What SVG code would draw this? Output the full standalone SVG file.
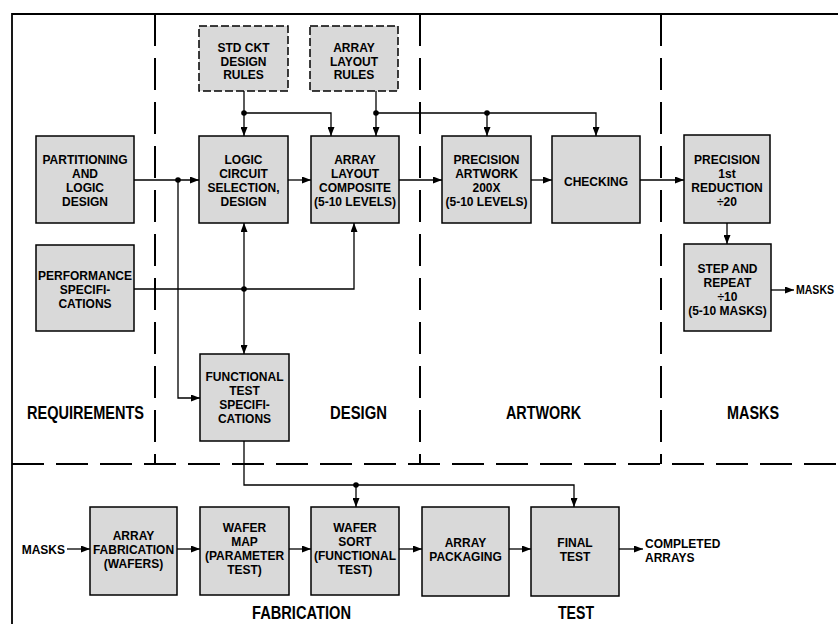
<svg xmlns="http://www.w3.org/2000/svg" width="838" height="624" viewBox="0 0 838 624">
<style>
.box{fill:#d9d9d9;stroke:#000;stroke-width:1.5}
.dbox{fill:#d9d9d9;stroke:#000;stroke-width:1.5;stroke-dasharray:8 3}
.t{font-family:"Liberation Sans",Arial,sans-serif;font-size:12px;font-weight:bold;text-anchor:middle;fill:#000}
.lbl{font-family:"Liberation Sans",Arial,sans-serif;font-size:12px;font-weight:bold;fill:#000}
.sec{font-family:"Liberation Sans",Arial,sans-serif;font-size:19px;font-weight:bold;fill:#000}
.c{fill:none;stroke:#000;stroke-width:1.3}
.a{marker-end:url(#ah)}
.div{fill:none;stroke:#000;stroke-width:2;stroke-dasharray:32 12}
</style>
<defs>
<marker id="ah" markerUnits="userSpaceOnUse" markerWidth="9" markerHeight="7" refX="9" refY="3.5" orient="auto">
<path d="M0,0 L9,3.5 L0,7 z" fill="#000"/>
</marker>
</defs>
<rect width="838" height="624" fill="#fff"/>
<g id="frame">
<path d="M12,624 V14 H838" fill="none" stroke="#000" stroke-width="1.8"/>
<path class="div" d="M155,14 V464"/>
<path class="div" d="M420,14 V464"/>
<path class="div" d="M661,14 V464"/>
<path class="div" d="M12,464 H838"/>
</g>
<g id="sections">
<text class="sec" x="27" y="419" textLength="117" lengthAdjust="spacingAndGlyphs">REQUIREMENTS</text>
<text class="sec" x="330" y="419" textLength="57" lengthAdjust="spacingAndGlyphs">DESIGN</text>
<text class="sec" x="506" y="419" textLength="75" lengthAdjust="spacingAndGlyphs">ARTWORK</text>
<text class="sec" x="727" y="419" textLength="52" lengthAdjust="spacingAndGlyphs">MASKS</text>
<text class="sec" x="252" y="619" textLength="99" lengthAdjust="spacingAndGlyphs">FABRICATION</text>
<text class="sec" x="558" y="619" textLength="36" lengthAdjust="spacingAndGlyphs">TEST</text>
</g>
<g id="connectors">
<path class="c a" d="M134,180 H199"/>
<path class="c a" d="M178,180 V398 H200"/>
<path class="c a" d="M288,180 H311"/>
<path class="c a" d="M399,180 H442"/>
<path class="c a" d="M531,180 H552"/>
<path class="c a" d="M640,180 H684"/>
<path class="c a" d="M727,223 V244"/>
<path class="c a" d="M771,290 H794"/>
<path class="c a" d="M244,91 V136"/>
<path class="c a" d="M244,113 H331 V136"/>
<path class="c a" d="M376,91 V136"/>
<path class="c a" d="M376,113 H596 V136"/>
<path class="c a" d="M487,113 V136"/>
<path class="c a" d="M134,289 H354 V223"/>
<path class="c a" d="M244,289 V223"/>
<path class="c a" d="M244,289 V354"/>
<path class="c a" d="M244,441 V485 H574 V507"/>
<path class="c a" d="M356,485 V507"/>
<path class="c a" d="M67,549 H90"/>
<path class="c a" d="M177,549 H200"/>
<path class="c a" d="M289,549 H311"/>
<path class="c a" d="M399,549 H422"/>
<path class="c a" d="M509,549 H531"/>
<path class="c a" d="M619,549 H643"/>
<g fill="#000">
<circle cx="178" cy="180" r="2.8"/>
<circle cx="244" cy="113" r="2.8"/>
<circle cx="376" cy="113" r="2.8"/>
<circle cx="487" cy="113" r="2.8"/>
<circle cx="244" cy="289" r="2.8"/>
<circle cx="356" cy="485" r="2.8"/>
</g>
</g>
<g id="partitioning">
<rect class="box" x="36" y="136" width="98" height="87"/>
<text class="t" x="85" y="164">PARTITIONING</text>
<text class="t" x="85" y="178">AND</text>
<text class="t" x="85" y="192">LOGIC</text>
<text class="t" x="85" y="206">DESIGN</text>
</g>
<g id="std-ckt-rules">
<rect class="dbox" x="199" y="26" width="89" height="65"/>
<text class="t" x="243.5" y="52">STD CKT</text>
<text class="t" x="243.5" y="66">DESIGN</text>
<text class="t" x="243.5" y="79">RULES</text>
</g>
<g id="array-layout-rules">
<rect class="dbox" x="310" y="26" width="88" height="65"/>
<text class="t" x="354" y="52">ARRAY</text>
<text class="t" x="354" y="66">LAYOUT</text>
<text class="t" x="354" y="79">RULES</text>
</g>
<g id="logic-circuit">
<rect class="box" x="199" y="136" width="89" height="87"/>
<text class="t" x="243.5" y="164">LOGIC</text>
<text class="t" x="243.5" y="178">CIRCUIT</text>
<text class="t" x="243.5" y="192">SELECTION,</text>
<text class="t" x="243.5" y="206">DESIGN</text>
</g>
<g id="array-layout-composite">
<rect class="box" x="311" y="136" width="88" height="87"/>
<text class="t" x="355" y="164">ARRAY</text>
<text class="t" x="355" y="178">LAYOUT</text>
<text class="t" x="355" y="192">COMPOSITE</text>
<text class="t" x="355" y="206">(5-10 LEVELS)</text>
</g>
<g id="precision-artwork">
<rect class="box" x="442" y="136" width="89" height="87"/>
<text class="t" x="486.5" y="164">PRECISION</text>
<text class="t" x="486.5" y="178">ARTWORK</text>
<text class="t" x="486.5" y="192">200X</text>
<text class="t" x="486.5" y="206">(5-10 LEVELS)</text>
</g>
<g id="checking">
<rect class="box" x="552" y="136" width="88" height="87"/>
<text class="t" x="596" y="185.5">CHECKING</text>
</g>
<g id="first-reduction">
<rect class="box" x="684" y="135" width="86" height="88"/>
<text class="t" x="727" y="164">PRECISION</text>
<text class="t" x="727" y="178">1st</text>
<text class="t" x="727" y="192">REDUCTION</text>
<text class="t" x="727" y="206">÷20</text>
</g>
<g id="step-repeat">
<rect class="box" x="684" y="244" width="87" height="87"/>
<text class="t" x="727.5" y="273">STEP AND</text>
<text class="t" x="727.5" y="287">REPEAT</text>
<text class="t" x="727.5" y="301">÷10</text>
<text class="t" x="727.5" y="315">(5-10 MASKS)</text>
</g>
<text class="lbl" x="796" y="294" textLength="38" lengthAdjust="spacingAndGlyphs">MASKS</text>
<g id="performance">
<rect class="box" x="36" y="245" width="98" height="86"/>
<text class="t" x="85" y="280">PERFORMANCE</text>
<text class="t" x="85" y="294">SPECIFI-</text>
<text class="t" x="85" y="308">CATIONS</text>
</g>
<g id="functional-test-spec">
<rect class="box" x="200" y="354" width="89" height="87"/>
<text class="t" x="244.5" y="380.5">FUNCTIONAL</text>
<text class="t" x="244.5" y="394.5">TEST</text>
<text class="t" x="244.5" y="408.5">SPECIFI-</text>
<text class="t" x="244.5" y="422.5">CATIONS</text>
</g>
<text class="lbl" x="65" y="554" text-anchor="end">MASKS</text>
<g id="array-fabrication">
<rect class="box" x="90" y="507" width="87" height="88"/>
<text class="t" x="133.5" y="540">ARRAY</text>
<text class="t" x="133.5" y="554">FABRICATION</text>
<text class="t" x="133.5" y="568">(WAFERS)</text>
</g>
<g id="wafer-map">
<rect class="box" x="200" y="507" width="89" height="88"/>
<text class="t" x="244.5" y="532">WAFER</text>
<text class="t" x="244.5" y="546">MAP</text>
<text class="t" x="244.5" y="560">(PARAMETER</text>
<text class="t" x="244.5" y="574">TEST)</text>
</g>
<g id="wafer-sort">
<rect class="box" x="311" y="507" width="88" height="88"/>
<text class="t" x="355" y="532">WAFER</text>
<text class="t" x="355" y="546">SORT</text>
<text class="t" x="355" y="560">(FUNCTIONAL</text>
<text class="t" x="355" y="574">TEST)</text>
</g>
<g id="array-packaging">
<rect class="box" x="422" y="507" width="87" height="89"/>
<text class="t" x="465.5" y="547">ARRAY</text>
<text class="t" x="465.5" y="561">PACKAGING</text>
</g>
<g id="final-test">
<rect class="box" x="531" y="507" width="88" height="89"/>
<text class="t" x="575" y="547">FINAL</text>
<text class="t" x="575" y="561">TEST</text>
</g>
<text class="lbl" x="645" y="548">COMPLETED</text>
<text class="lbl" x="645" y="562">ARRAYS</text>
</svg>
